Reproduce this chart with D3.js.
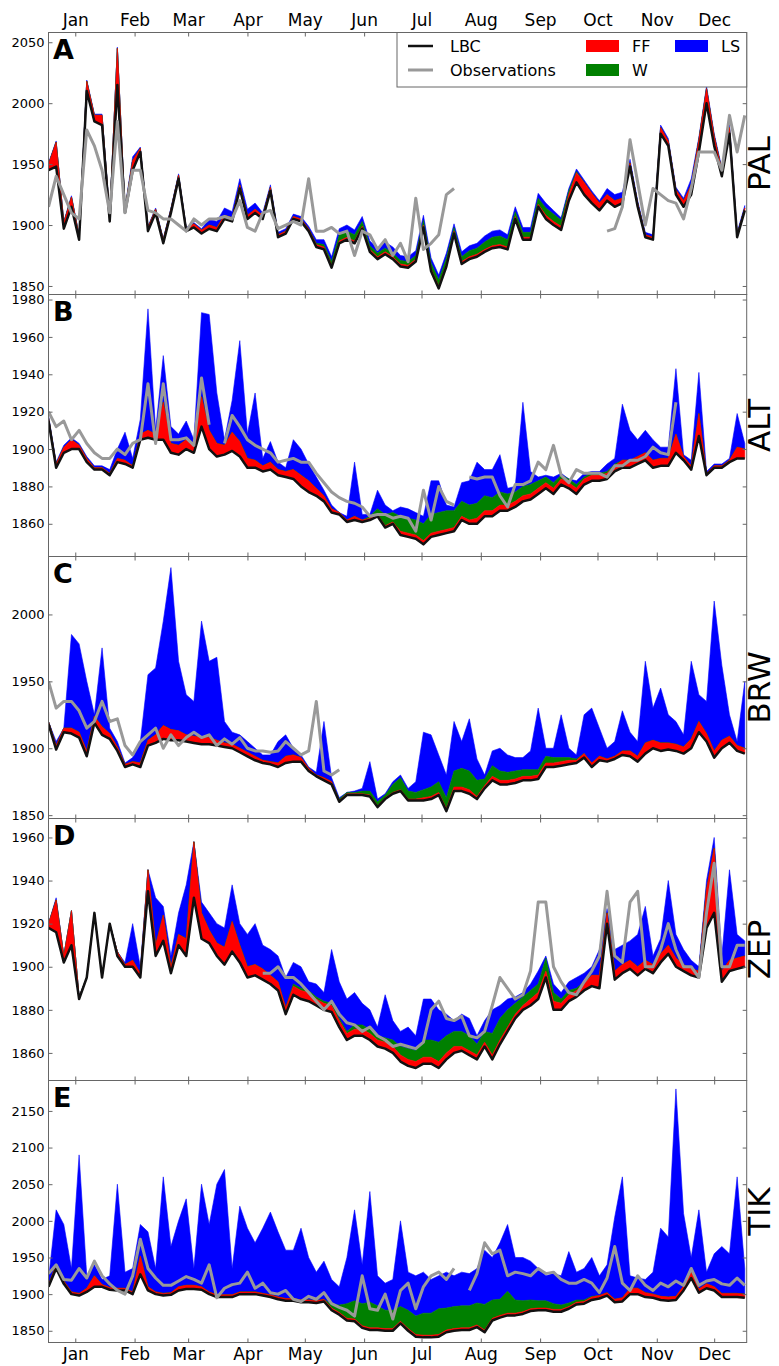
<!DOCTYPE html>
<html>
<head>
<meta charset="utf-8">
<script src="https://cdnjs.cloudflare.com/ajax/libs/d3/7.8.5/d3.min.js"></script>
<style>
body { margin: 0; background: #fff; }
text { font-family: "DejaVu Sans", sans-serif; }
</style>
</head>
<body>
<div class="svg"></div>
<script>
// day of year for every sample (every 4th day)
const days = [0,4,8,12,16,20,24,28,32,36,40,44,48,52,56,60,64,68,72,76,80,84,88,92,96,100,104,108,112,116,120,124,128,132,136,140,144,148,152,156,160,164,168,172,176,180,184,188,192,196,200,204,208,212,216,220,224,228,232,236,240,244,248,252,256,260,264,268,272,276,280,284,288,292,296,300,304,308,312,316,320,324,328,332,336,340,344,348,352,356,360,364];
const monthNames = ["Jan","Feb","Mar","Apr","May","Jun","Jul","Aug","Sep","Oct","Nov","Dec"];
const monthDays = [14,45,73,104,134,165,195,226,257,287,318,348];

const stations = ["PAL","ALT","BRW","ZEP","TIK"];
const letters = ["A","B","C","D","E"];
const palTicks = [1850,1900,1950,2000,2050];
const altTicks = [1860,1880,1900,1920,1940,1960,1980];
const brwTicks = [1850,1900,1950,2000];
const zepTicks = [1860,1880,1900,1920,1940,1960];
const tikTicks = [1850,1900,1950,2000,2050,2100,2150];

// PAL
const palLBC = [1945,1948,1897,1915,1888,2010,1985,1982,1903,2015,1910,1945,1960,1895,1910,1885,1910,1938,1895,1898,1893,1897,1895,1905,1903,1930,1905,1910,1905,1928,1890,1893,1905,1903,1895,1882,1880,1865,1885,1888,1885,1897,1878,1872,1876,1872,1866,1865,1870,1898,1862,1848,1866,1893,1868,1872,1874,1878,1881,1882,1880,1905,1888,1888,1915,1905,1900,1896,1920,1935,1925,1918,1912,1920,1915,1918,1948,1915,1890,1888,1975,1965,1925,1915,1925,1960,2000,1965,1940,1975,1890,1912];
const palFF = [5,20,5,8,3,8,5,8,5,30,3,8,3,3,3,3,3,3,2,3,3,3,3,3,3,3,3,3,3,3,2,2,2,2,2,2,2,2,2,2,2,2,2,2,2,2,2,2,2,2,2,2,2,2,2,2,2,2,2,2,2,2,2,2,2,3,3,3,5,8,10,8,6,5,5,4,3,3,2,2,5,4,4,5,8,10,12,8,5,5,2,2];
const palW = [0,0,0,0,0,0,0,0,0,0,0,0,0,0,0,0,0,0,0,0,0,0,0,0,0,0,0,0,0,0,0,0,0,0,0,1,2,3,5,5,5,4,3,3,3,3,3,3,3,4,5,5,5,3,4,5,5,6,7,7,6,4,4,4,5,6,6,5,3,1,0,0,0,0,0,0,0,0,0,0,0,0,0,0,0,0,0,0,0,0,0,0];
const palLS = [1,1,1,1,1,1,1,1,1,1,1,3,1,1,1,1,1,1,1,1,1,5,5,6,5,5,5,5,2,2,2,2,2,2,2,3,4,4,5,5,4,4,4,4,5,5,4,4,4,4,4,4,4,3,4,4,4,5,5,5,4,4,4,4,4,4,3,2,2,2,2,2,2,5,5,5,3,2,2,2,2,2,2,2,5,2,2,2,2,2,2,2];
const palObs = [1915,1940,1925,1910,1905,1978,1965,1945,1910,1985,1910,1945,1945,1912,1910,1905,1905,1900,1895,1905,1900,1905,1905,1907,1905,1920,1898,1895,1910,1912,1897,1900,1903,1900,1938,1895,1895,1898,1893,1895,1875,1895,1892,1880,1888,1875,1885,1870,1922,1880,1885,1892,1925,1930,null,null,null,null,null,null,null,null,null,null,null,null,null,null,null,null,null,null,null,1895,1897,1915,1970,1935,1900,1930,1925,1920,1918,1905,1930,1960,1960,1960,1945,1990,1960,1990];

// ALT
const altLBC = [1915,1890,1898,1900,1900,1893,1889,1889,1886,1893,1892,1890,1905,1906,1905,1905,1898,1897,1900,1898,1912,1900,1896,1897,1899,1896,1890,1890,1888,1889,1886,1885,1884,1880,1877,1875,1872,1866,1865,1861,1862,1861,1862,1864,1858,1860,1854,1853,1852,1849,1853,1854,1855,1856,1862,1860,1860,1864,1864,1867,1867,1869,1872,1873,1876,1879,1876,1881,1879,1876,1881,1883,1883,1884,1888,1890,1890,1892,1894,1890,1891,1891,1898,1894,1889,1907,1886,1890,1890,1893,1895,1895];
const altFF = [2,2,3,5,2,2,1,1,1,2,2,1,3,4,3,20,5,5,5,5,16,10,7,5,10,8,5,4,3,4,3,3,5,6,6,4,3,2,1,1,2,1,1,1,1,1,2,2,2,2,2,2,2,2,2,2,3,3,3,3,3,3,3,3,3,3,3,3,3,3,3,3,3,3,3,4,4,4,4,4,4,4,10,2,2,12,1,1,1,1,6,5];
const altW = [0,0,0,0,0,0,0,0,0,0,0,0,0,0,0,0,0,0,0,0,0,0,0,0,0,0,0,0,0,0,0,0,0,0,0,0,0,0,0,0,0,0,1,3,6,5,8,8,8,9,10,10,10,9,8,8,8,8,7,7,6,5,5,5,4,3,3,2,2,2,1,1,1,1,1,0,0,0,0,0,0,0,0,0,0,0,0,0,0,0,0,0];
const altLS = [1,1,1,1,1,1,1,1,2,5,15,4,8,65,2,25,9,6,10,2,45,62,27,3,17,54,13,36,4,11,4,2,16,14,9,6,3,2,0,2,29,3,1,10,5,1,5,5,4,4,18,17,3,2,10,13,22,14,15,20,3,3,45,7,2,1,3,1,0,2,2,1,1,4,3,30,16,9,12,11,6,6,35,1,3,22,1,1,1,1,18,3];
const altObs = [1920,1912,1915,1905,1910,1903,1898,1895,1895,1900,1897,1903,1905,1935,1903,1935,1905,1905,1906,1902,1938,1913,null,1903,1918,1912,1905,1902,1900,1898,1893,1894,1895,1893,1893,1887,1882,1877,1874,1872,1871,1869,1864,1865,1865,1863,1864,1863,1856,1878,1862,1880,1872,1870,null,1885,1884,1885,1885,1875,1869,1881,1881,1883,1893,1889,1902,1886,1882,1889,1887,1887,1887,1885,1891,1891,1894,1894,1896,1901,1898,1897,1925,null,null,null,null,null,null,null,null,null];

// BRW
const brwLBC = [1918,1899,1912,1911,1908,1894,1919,1910,1907,1898,1886,1888,1886,1902,1904,1907,1906,1906,1905,1904,1903,1903,1902,1901,1900,1897,1894,1891,1889,1888,1886,1889,1890,1890,1883,1879,1876,1873,1860,1865,1865,1865,1864,1856,1862,1866,1868,1861,1861,1861,1862,1865,1853,1868,1868,1866,1862,1870,1876,1873,1873,1874,1876,1876,1877,1886,1886,1887,1888,1889,1893,1886,1891,1890,1892,1895,1894,1890,1896,1900,1898,1899,1898,1896,1900,1912,1905,1893,1900,1904,1898,1896];
const brwFF = [2,3,3,4,4,4,5,6,4,3,2,2,3,4,6,10,8,7,5,5,5,5,4,3,3,3,3,3,2,2,3,5,5,3,2,1,2,2,1,1,1,1,1,1,1,1,1,1,1,2,2,2,2,3,3,3,2,2,3,3,3,3,3,3,3,3,3,3,3,2,3,3,3,2,2,3,4,4,8,6,6,5,5,5,7,8,6,5,6,5,4,4];
const brwW = [0,0,0,0,0,0,0,0,0,0,0,0,0,0,0,0,0,0,0,0,0,0,0,0,0,0,0,0,0,0,0,0,0,0,0,0,0,0,1,1,1,2,3,3,2,6,9,6,5,6,7,8,8,12,14,14,12,5,8,7,6,6,5,5,4,5,4,3,2,1,0,0,0,0,0,0,0,0,0,0,0,0,0,0,0,0,0,0,0,0,0,0];
const brwLS = [0,3,0,70,66,52,1,59,4,4,1,3,16,49,50,78,121,52,30,26,87,57,62,16,9,10,8,6,4,5,16,16,5,2,1,2,42,3,1,0,1,2,22,2,1,2,2,2,8,43,39,20,17,37,20,39,16,3,11,17,13,10,9,14,46,6,7,32,7,3,29,41,21,8,11,30,14,11,61,24,41,21,17,9,58,20,24,112,56,16,3,50];
const brwObs = [1950,1930,1935,1935,1928,1915,1920,1935,1920,1922,1902,1895,1905,1910,1915,1900,1910,1902,1908,1912,1908,1910,1902,1907,1903,1908,1900,1898,1898,1897,1898,1905,1900,1895,1898,1935,1883,1880,1884,null,null,null,null,null,null,null,null,null,null,null,null,null,null,null,null,null,null,null,null,null,null,null,null,null,null,null,null,null,null,null,null,null,null,null,null,null,null,null,null,null,null,null,null,null,null,null,null,null,null,null,null,null];

// ZEP
const zepLBC = [1918,1916,1902,1910,1885,1895,1925,1895,1920,1905,1900,1900,1895,1935,1905,1912,1897,1910,1905,1932,1913,1911,1905,1901,1907,1902,1895,1896,1894,1892,1889,1878,1887,1885,1884,1882,1880,1879,1872,1866,1868,1868,1866,1863,1862,1860,1856,1854,1853,1855,1855,1853,1857,1860,1861,1859,1857,1863,1857,1864,1870,1876,1880,1882,1885,1895,1880,1880,1884,1886,1889,1891,1890,1920,1894,1897,1899,1896,1899,1897,1902,1906,1900,1898,1896,1895,1918,1925,1893,1898,1899,1900];
const zepFF = [2,15,3,16,1,0,0,0,0,2,1,3,2,10,5,12,3,5,8,26,12,6,6,8,14,8,5,5,5,4,4,3,4,4,4,3,3,3,3,3,3,3,3,3,3,3,3,3,3,3,3,3,3,3,2,2,2,2,2,2,2,2,2,3,3,3,4,3,3,3,3,5,6,5,4,4,4,4,4,4,4,4,4,3,3,3,18,30,5,5,5,5];
const zepW = [0,0,0,0,0,0,0,0,0,0,0,0,0,0,0,0,0,0,0,0,0,0,0,0,0,0,0,0,0,0,0,0,1,1,1,1,1,1,1,1,2,2,2,2,2,3,4,5,5,8,8,9,8,7,7,7,5,5,10,10,8,5,4,4,4,6,4,2,2,1,1,0,0,0,0,0,0,0,0,0,0,0,0,0,0,0,0,0,0,0,0,0];
const zepLS = [0,1,0,0,0,0,0,0,0,0,1,17,3,0,22,4,5,10,25,0,5,8,9,9,17,10,15,19,11,12,12,14,10,10,4,6,4,25,17,15,15,10,9,4,20,9,7,10,7,19,19,15,10,5,8,8,4,5,11,6,5,3,2,3,6,1,4,3,4,5,4,4,12,2,10,9,9,15,25,4,7,30,11,7,4,2,4,5,7,42,11,7];
const zepObs = [null,null,null,null,null,null,null,null,null,null,null,null,null,null,null,null,null,null,null,null,null,null,null,null,null,null,null,null,1897,1897,1900,1895,1895,1892,1888,1884,1880,1884,1878,1874,1873,1870,1872,1868,1866,1863,1864,1863,1862,1865,1880,1884,1876,1875,1877,1868,1867,1870,1882,1895,1890,1885,1887,1898,1930,1930,1900,1893,1888,1887,1893,1898,1905,1935,1905,1902,1930,1935,1900,1900,1908,1920,1908,1900,1900,1895,1925,1948,1900,1900,1910,1910];

// TIK
const tikLBC = [1910,1935,1914,1900,1898,1903,1910,1910,1906,1905,1905,1900,1927,1905,1900,1898,1899,1905,1907,1907,1906,1900,1896,1896,1896,1900,1900,1900,1898,1896,1893,1891,1891,1889,1889,1888,1890,1878,1872,1864,1863,1854,1851,1851,1850,1850,1860,1850,1842,1841,1841,1842,1848,1850,1851,1851,1855,1848,1864,1868,1871,1871,1873,1877,1878,1878,1876,1876,1880,1886,1887,1892,1894,1898,1889,1890,1900,1900,1896,1895,1892,1891,1892,1905,1922,1902,1908,1905,1896,1896,1896,1895];
const tikFF = [3,5,4,3,3,5,15,3,3,3,3,3,25,5,3,3,3,5,5,5,4,3,3,3,3,3,3,3,3,3,3,3,3,3,3,3,3,3,3,3,3,3,3,3,3,3,3,3,3,3,3,3,3,3,3,3,3,3,3,3,3,3,3,3,3,3,3,3,3,3,3,4,4,4,4,5,8,8,6,5,5,5,5,6,8,5,6,5,5,5,5,5];
const tikW = [0,0,0,0,0,0,0,0,0,0,0,0,0,0,0,0,0,0,0,0,0,0,0,0,0,0,0,0,0,0,0,0,0,0,0,0,0,5,10,20,25,30,35,30,25,25,20,25,25,30,30,35,30,30,30,30,30,35,25,22,30,18,15,12,10,10,8,6,5,3,2,1,0,0,0,0,0,0,0,0,0,0,0,0,0,0,0,0,0,0,0,0];
const tikLS = [7,75,77,32,189,17,15,7,16,142,22,32,43,75,32,159,63,90,118,23,140,92,151,171,36,117,87,67,89,113,89,66,66,98,58,39,52,34,25,63,124,53,151,41,37,42,117,52,55,56,46,45,49,42,46,44,47,74,58,77,91,58,59,53,44,34,41,40,70,38,43,53,27,38,112,165,17,14,18,30,93,82,283,99,20,108,16,45,64,54,159,35];
const tikObs = [1928,1940,1920,1919,1935,1922,1945,1925,1914,1905,1900,1925,1975,1935,1922,1912,1912,1918,1924,1920,1915,1940,1895,1908,1913,1915,1930,1908,1915,1902,1900,1905,1893,1890,1897,1893,1902,1887,1882,1878,1870,1925,1880,1878,1900,1866,1905,1915,1880,1910,1925,1930,1920,1935,null,1905,1928,1970,1955,1960,1925,1930,1928,1925,1935,1928,1930,1920,1915,1915,1920,1915,1902,1922,1965,1915,1905,1925,1912,1905,1915,1910,1918,1912,1935,1912,1918,1920,1914,1912,1922,1912];

const w = 779;
const h = 1366;
const left = 48.5;
const right = 746.7;
const panelH = 262;
const panelTops = [32.5, 294.5, 556.5, 818.5, 1080.5];

let panels = [
    {lbc: palLBC, ff: palFF, w: palW, ls: palLS, obs: palObs, ticks: palTicks, ylim: [1843, 2058]},
    {lbc: altLBC, ff: altFF, w: altW, ls: altLS, obs: altObs, ticks: altTicks, ylim: [1842.5, 1982.7]},
    {lbc: brwLBC, ff: brwFF, w: brwW, ls: brwLS, obs: brwObs, ticks: brwTicks, ylim: [1847.5, 2043.3]},
    {lbc: zepLBC, ff: zepFF, w: zepW, ls: zepLS, obs: zepObs, ticks: zepTicks, ylim: [1847.2, 1968.8]},
    {lbc: tikLBC, ff: tikFF, w: tikW, ls: tikLS, obs: tikObs, ticks: tikTicks, ylim: [1834, 2191.5]}
];

let svg = d3.select(".svg").append("svg")
    .attr("width", w)
    .attr("height", h);

svg.append("rect").attr("width", w).attr("height", h).attr("fill", "#fff");

let x = d3.scaleLinear().domain([0, 365]).range([left, right]);

let drawPanel = (p, k) => {
    let top = panelTops[k];
    let bottom = top + panelH;
    let y = d3.scaleLinear().domain(p.ylim).range([bottom, top]);
    let g = svg.append("g");

    svg.append("clipPath").attr("id", "clip" + k)
        .append("rect").attr("x", left).attr("y", top).attr("width", right - left).attr("height", panelH);

    let rows = days.map((d, i) => {
        let b = p.lbc[i];
        let f = b + p.ff[i];
        let wv = f + p.w[i];
        return {d: d, b: b, f: f, wv: wv, l: wv + p.ls[i], o: p.obs[i]};
    });

    let plot = g.append("g").attr("clip-path", "url(#clip" + k + ")");
    let band = (lo, hi) => d3.area().x(d => x(d.d)).y0(d => y(d[lo])).y1(d => y(d[hi]));

    plot.append("path").datum(rows).attr("d", band("wv", "l")).attr("fill", "#0000ff").attr("stroke", "#0000ff").attr("stroke-width", 0.6);
    plot.append("path").datum(rows).attr("d", band("f", "wv")).attr("fill", "#008000").attr("stroke", "#008000").attr("stroke-width", 0.6);
    plot.append("path").datum(rows).attr("d", band("b", "f")).attr("fill", "#ff0000").attr("stroke", "#ff0000").attr("stroke-width", 0.6);

    plot.append("path").datum(rows)
        .attr("d", d3.line().x(d => x(d.d)).y(d => y(d.b)))
        .attr("fill", "none").attr("stroke", "#111").attr("stroke-width", 2.5).attr("stroke-linejoin", "round");

    plot.append("path").datum(rows)
        .attr("d", d3.line().defined(d => d.o != null).x(d => x(d.d)).y(d => y(d.o)))
        .attr("fill", "none").attr("stroke", "#999").attr("stroke-width", 3).attr("stroke-linejoin", "round");

    // axes, ticks pointing inwards
    let yl = g.append("g").attr("transform", "translate(" + left + ",0)")
        .call(d3.axisLeft(y).tickValues(p.ticks).tickSize(-4).tickPadding(4).tickFormat(d3.format("d")));
    let yr = g.append("g").attr("transform", "translate(" + right + ",0)")
        .call(d3.axisRight(y).tickValues(p.ticks).tickSize(-4).tickFormat(""));
    let xt = g.append("g").attr("transform", "translate(0," + top + ")")
        .call(d3.axisTop(x).tickValues(monthDays).tickSize(-4).tickPadding(6.5)
            .tickFormat((d, i) => k == 0 ? monthNames[i] : ""));
    let xb = g.append("g").attr("transform", "translate(0," + bottom + ")")
        .call(d3.axisBottom(x).tickValues(monthDays).tickSize(-4).tickPadding(5.5)
            .tickFormat((d, i) => k == 4 ? monthNames[i] : ""));

    [yl, yr, xt, xb].forEach(a => {
        a.select(".domain").remove();
        a.selectAll("line").attr("stroke", "#666");
        a.selectAll("text").attr("fill", "#000").style("font-family", "DejaVu Sans");
    });
    yl.selectAll("text").style("font-size", "13px");
    xt.selectAll("text").style("font-size", "17px");
    xb.selectAll("text").style("font-size", "17px");

    g.append("rect")
        .attr("x", left).attr("y", top).attr("width", right - left).attr("height", panelH)
        .attr("fill", "none").attr("stroke", "#666").attr("stroke-width", 1);

    g.append("text").text(letters[k])
        .attr("x", 53).attr("y", top + 26.5)
        .attr("font-size", 27).attr("font-weight", "bold");

    let cy = top + panelH / 2;
    g.append("text").text(stations[k])
        .attr("x", 770).attr("y", cy)
        .attr("transform", "rotate(-90,770," + cy + ")")
        .attr("text-anchor", "middle")
        .attr("font-size", 31);
};

panels.forEach(drawPanel);

// legend
let legend = svg.append("g").attr("id", "legend");
legend.append("rect").attr("x", 397).attr("y", 32.5).attr("width", right - 397).attr("height", 54.5)
    .attr("fill", "#fff").attr("stroke", "#666").attr("stroke-width", 1);
legend.append("line").attr("x1", 408).attr("x2", 433).attr("y1", 46).attr("y2", 46).attr("stroke", "#111").attr("stroke-width", 2.5);
legend.append("line").attr("x1", 408).attr("x2", 433).attr("y1", 70).attr("y2", 70).attr("stroke", "#999").attr("stroke-width", 3);
legend.append("text").text("LBC").attr("x", 450).attr("y", 52).attr("font-size", 16);
legend.append("text").text("Observations").attr("x", 450).attr("y", 76).attr("font-size", 16);
legend.append("rect").attr("x", 586).attr("y", 40).attr("width", 33).attr("height", 12).attr("fill", "#ff0000");
legend.append("rect").attr("x", 586).attr("y", 64).attr("width", 33).attr("height", 12).attr("fill", "#008000");
legend.append("rect").attr("x", 675).attr("y", 40).attr("width", 33).attr("height", 12).attr("fill", "#0000ff");
legend.append("text").text("FF").attr("x", 632).attr("y", 52).attr("font-size", 16);
legend.append("text").text("W").attr("x", 632).attr("y", 76).attr("font-size", 16);
legend.append("text").text("LS").attr("x", 721).attr("y", 52).attr("font-size", 16);
</script>
</body>
</html>
